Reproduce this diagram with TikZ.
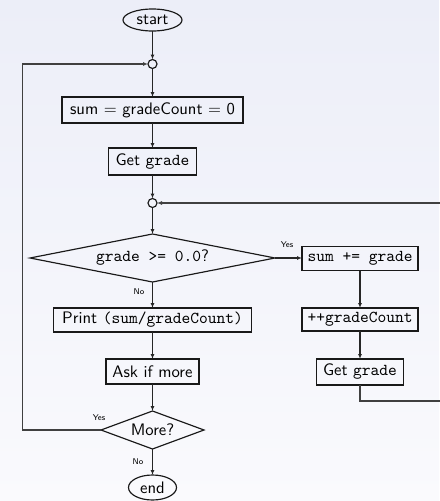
\documentclass[tikz,border=0pt]{standalone}
\usepackage{fontspec}
\usetikzlibrary{shapes.geometric,arrows.meta}
\begin{document}
\begin{tikzpicture}[x=0.6pt,y=-0.6pt,
  font=\sffamily,
  every node/.style={inner sep=0pt, outer sep=0pt, draw=black!90, line width=0.7pt},
  terminal/.style={ellipse},
  junction/.style={circle, minimum size=5.4pt},
  procbox/.style={rectangle, minimum height=15pt},
  decision/.style={diamond},
  flowlabel/.style={draw=none, font=\sffamily\tiny},
  flow/.style={line width=0.65pt, draw=black!85, -{Latex[length=3pt,width=2.4pt]}},
  loop/.style={line width=0.65pt, draw=black!75, -{Latex[length=3pt,width=2.4pt]}}
]
% slide background
\shade[top color={rgb,255:red,236;green,238;blue,248}, bottom color={rgb,255:red,250;green,250;blue,253}]
  (0,0) rectangle (439,501);
\useasboundingbox (0,0) rectangle (439,501);

% main column
\node[terminal, minimum width=35.4pt, minimum height=13.2pt] (start) at (152.5,20) {start};
\node[junction] (c1) at (152.5,64) {};
\node[procbox, minimum width=108.6pt, minimum height=15.6pt] (init) at (152.5,110) {sum $=$ gradeCount $=$ 0};
\node[procbox, minimum width=52.8pt, minimum height=16.2pt] (get1) at (152.5,161.5) {Get \texttt{grade}};
\node[junction] (c2) at (152.5,203) {};
\node[decision, minimum width=147pt, minimum height=28.8pt, aspect=5] (test) at (152.5,258) {\texttt{grade >= 0.0}?};
\node[procbox, minimum width=118.8pt, minimum height=14.4pt] (print) at (152.5,320) {Print \texttt{(sum/gradeCount)}};
\node[procbox, minimum width=55.8pt, minimum height=15pt] (ask) at (152.5,371.5) {Ask if more};
\node[decision, minimum width=61.8pt, minimum height=22.8pt, aspect=2.7] (more) at (152.5,430) {More?};
\node[terminal, minimum width=28.8pt, minimum height=15pt] (end) at (152.5,487.5) {end};

% right column
\node[procbox, minimum width=69.6pt, minimum height=14.4pt] (add) at (360,258.5) {\texttt{sum += grade}};
\node[procbox, minimum width=69.6pt, minimum height=13.8pt] (inc) at (360,319.5) {\texttt{++gradeCount}};
\node[procbox, minimum width=52.2pt, minimum height=15.6pt] (get2) at (360,372) {Get \texttt{grade}};

% branch labels
\node[flowlabel] (yes1) at (287,245) {Yes};
\node[flowlabel] (no1) at (139,292) {No};
\node[flowlabel] (yes2) at (99,418) {Yes};
\node[flowlabel] (no2) at (138,462) {No};

% straight connectors
\draw[flow] (start) -- (c1);
\draw[flow] (c1) -- (init);
\draw[flow] (init) -- (get1);
\draw[flow] (get1) -- (c2);
\draw[flow] (c2) -- (test);
\draw[flow] (test.east) -- (test.east -| add.west);
\draw[flow] (test) -- (print);
\draw[flow] (print) -- (ask);
\draw[flow] (ask) -- (more);
\draw[flow] (more) -- (end);
\draw[flow] (add) -- (inc);
\draw[flow] (inc) -- (get2);

% loops back
\coordinate (lft) at (22.7,430);
\draw[loop] (more.west) -- (lft) |- (c1.west);
\coordinate (rgt) at (441,401);
\draw[loop] (get2.south) |- (rgt) |- (c2.east);
\end{tikzpicture}
\end{document}
